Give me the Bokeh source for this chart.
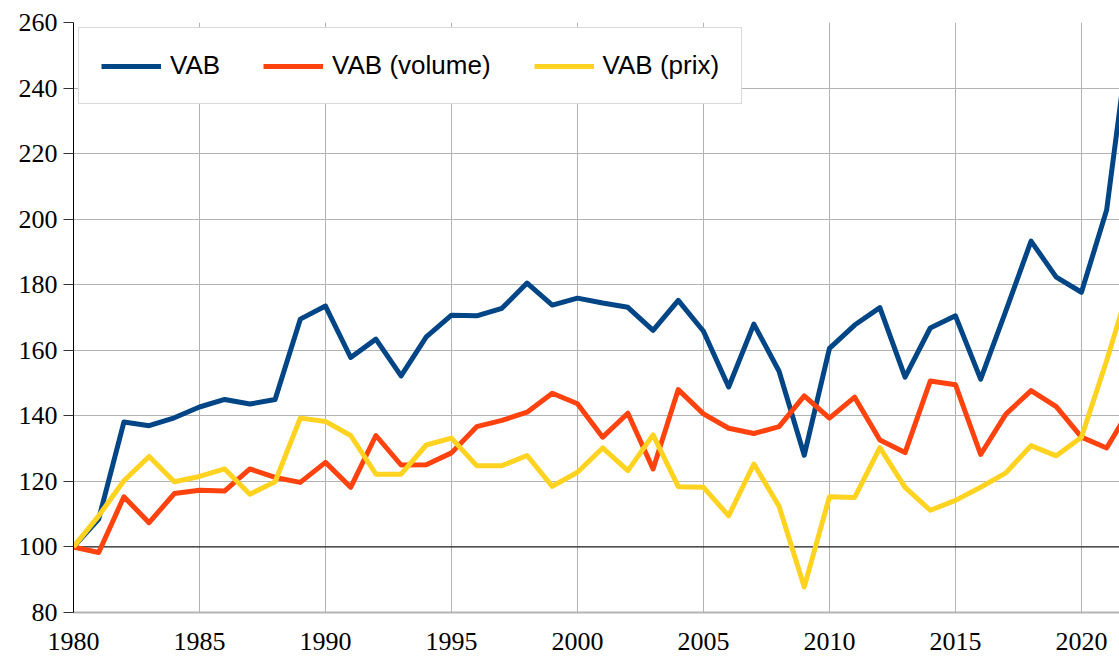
from bokeh.plotting import figure
from bokeh.models import Range1d, Span, FixedTicker
from bokeh.embed import file_html
from bokeh.resources import INLINE

years = list(range(1980, 2023))
vab = [100, 108.5, 138.1, 137.0, 139.4, 142.7, 145.0, 143.6, 145.0, 169.5,
       173.5, 157.8, 163.4, 152.2, 164.1, 170.7, 170.5, 172.8, 180.5, 173.8,
       175.9, 174.4, 173.1, 166.1, 175.2, 165.8, 148.8, 168.0, 153.6, 128.0,
       160.6, 167.7, 173.0, 151.8, 166.8, 170.5, 151.2, 172.0, 193.3, 182.3,
       177.7, 202.8, 262.0]
vab_volume = [100, 98.3, 115.3, 107.4, 116.3, 117.3, 117.1, 123.8, 121.2, 119.7,
              125.8, 118.2, 134.0, 125.0, 125.1, 128.7, 136.7, 138.6, 141.1, 146.9,
              143.7, 133.5, 140.8, 123.8, 148.0, 140.6, 136.2, 134.6, 136.7, 146.1,
              139.3, 145.7, 132.6, 128.8, 150.6, 149.5, 128.2, 140.5, 147.7, 142.8,
              133.5, 130.2, 143.0]
vab_prix = [100, 109.5, 120.2, 127.6, 119.9, 121.5, 123.8, 116.1, 119.9, 139.3,
            138.3, 134.0, 122.2, 122.2, 131.1, 133.2, 124.8, 124.8, 127.9, 118.5,
            122.8, 130.2, 123.3, 134.2, 118.4, 118.2, 109.5, 125.3, 112.4, 87.8,
            115.3, 115.1, 130.3, 118.2, 111.2, 114.2, 118.2, 122.6, 130.9, 127.8,
            133.5, 156.8, 182.2]

series_names = ["VAB", "VAB (volume)", "VAB (prix)"]
colors = ["#004586", "#ff420e", "#ffd320"]
x_ticks = [1980, 1985, 1990, 1995, 2000, 2005, 2010, 2015, 2020]
y_ticks = [80, 100, 120, 140, 160, 180, 200, 220, 240, 260]

p = figure(width=1119, height=661, output_backend="svg", toolbar_location=None,
           x_range=Range1d(1980, 2021.51), y_range=Range1d(80, 260),
           min_border_left=73, min_border_top=22, min_border_bottom=49,
           min_border_right=0)
p.outline_line_color = None
p.background_fill_color = "white"

grid_col = "#b3b3b3"
p.xgrid.ticker = FixedTicker(ticks=x_ticks)
p.ygrid.ticker = FixedTicker(ticks=y_ticks)
p.xgrid.grid_line_color = grid_col
p.ygrid.grid_line_color = grid_col
p.xgrid.grid_line_width = 1
p.ygrid.grid_line_width = 1

p.xaxis.ticker = FixedTicker(ticks=x_ticks)
p.yaxis.ticker = FixedTicker(ticks=y_ticks)
for ax in (p.xaxis[0], p.yaxis[0]):
    ax.major_label_text_font = "Liberation Serif"
    ax.major_label_text_font_size = "26px"
    ax.major_label_text_color = "black"
    ax.minor_tick_line_color = None

p.yaxis.axis_line_color = "black"
p.yaxis.axis_line_width = 1
p.yaxis.major_tick_line_color = "#333333"
p.yaxis.major_tick_in = 0
p.yaxis.major_tick_out = 10
p.yaxis.major_label_standoff = 6

p.xaxis.axis_line_color = "#b3b3b3"
p.xaxis.axis_line_width = 2
p.xaxis.major_tick_line_color = None
p.xaxis.major_tick_in = 0
p.xaxis.major_tick_out = 0
p.xaxis.major_label_standoff = 20

base = Span(location=100, dimension="width", line_color="black", line_width=1,
            level="underlay")
p.add_layout(base)

for vals, name, col in zip([vab, vab_volume, vab_prix], series_names, colors):
    p.line(years, vals, line_color=col, line_width=5, line_join="round",
           legend_label=name)

lg = p.legend[0]
lg.orientation = "horizontal"
lg.location = (5, 508)
lg.padding = 22
lg.spacing = 43
lg.glyph_width = 60
lg.glyph_height = 20
lg.label_standoff = 9
lg.label_text_font = "Liberation Sans"
lg.label_text_font_size = "26px"
lg.label_text_color = "black"
lg.border_line_color = "#b3b3b3"
lg.border_line_width = 1
lg.background_fill_color = "white"
lg.background_fill_alpha = 1.0
lg.margin = 0

open("out.html", "w").write(file_html(p, INLINE))
